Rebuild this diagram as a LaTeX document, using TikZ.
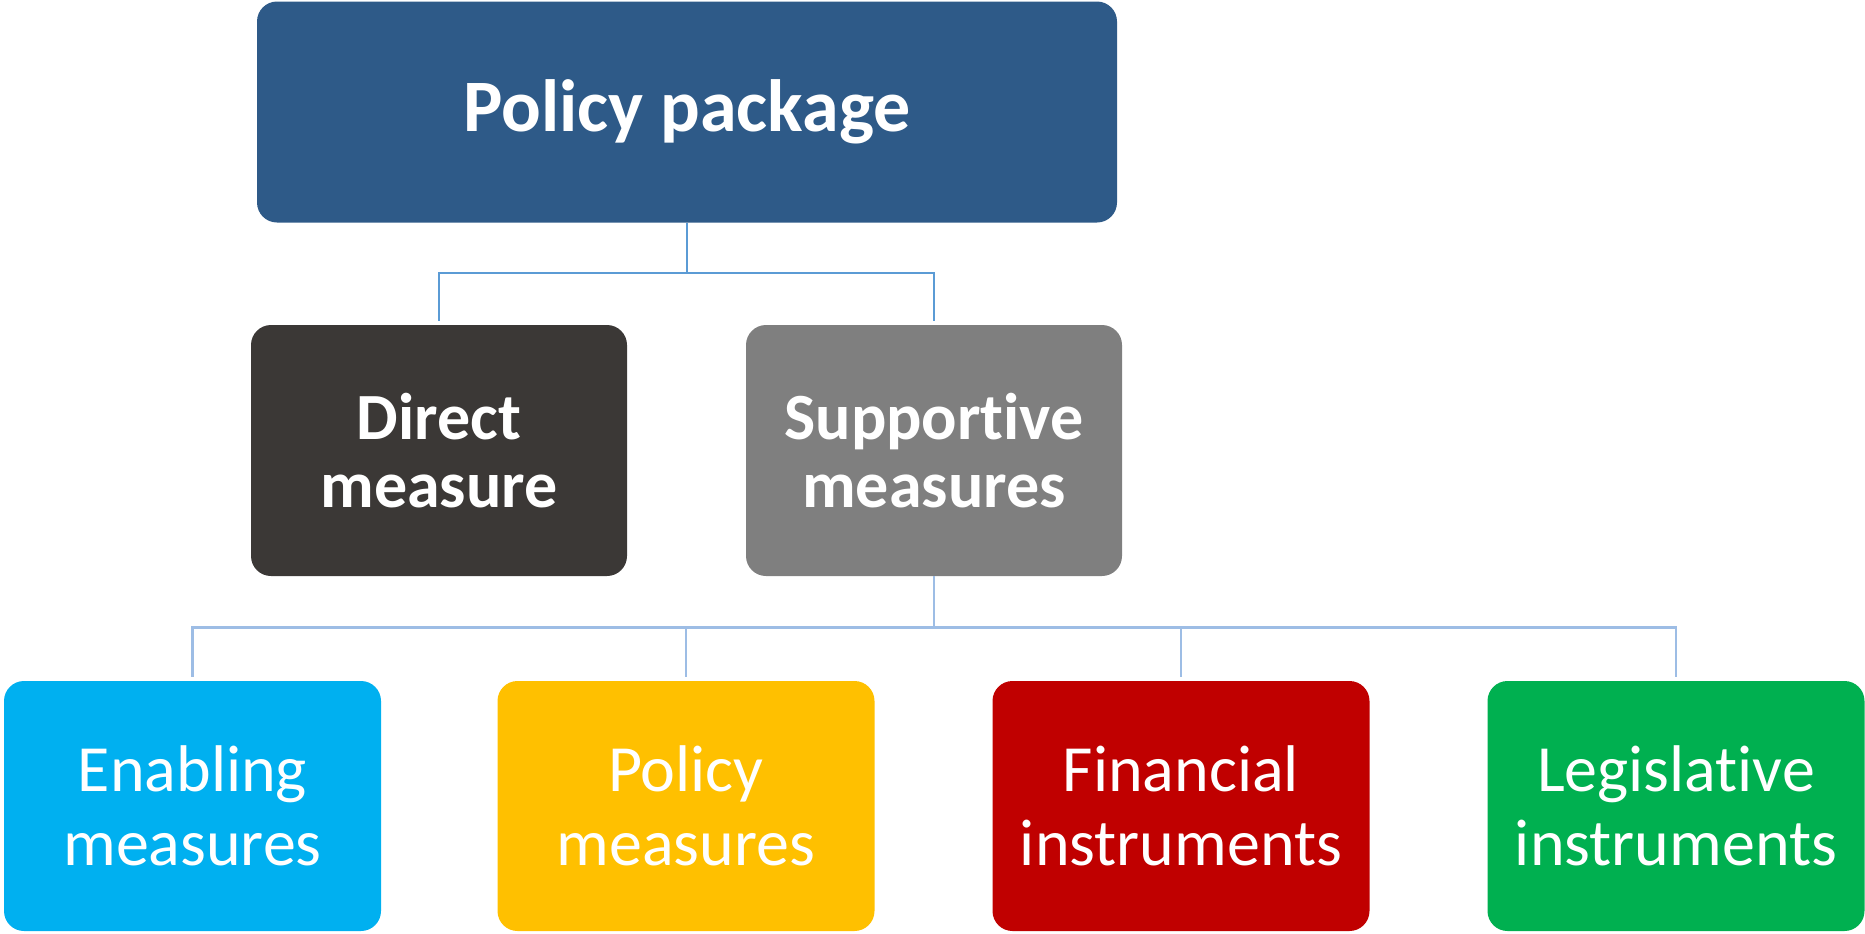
\documentclass[tikz,border=0pt]{standalone}
\usepackage{fontspec}
\setmainfont{Carlito}[Ligatures=NoCommon]
\definecolor{pkgblue}{HTML}{2E5A88}
\definecolor{directgray}{HTML}{3B3836}
\definecolor{supgray}{HTML}{7F7F7F}
\definecolor{enblue}{HTML}{00B0F0}
\definecolor{polyellow}{HTML}{FFC000}
\definecolor{finred}{HTML}{C00000}
\definecolor{leggreen}{HTML}{00B050}
\definecolor{lineA}{HTML}{5B9BD5}
\definecolor{lineB}{HTML}{9DBDE5}
\begin{document}
\begin{tikzpicture}[x=0.5pt,y=-0.5pt,
  box/.style={rounded corners=10pt, align=center, text=white, inner sep=0pt, draw=none},
  topbox/.style={box, minimum width=430pt, minimum height=110.5pt, font=\fontsize{37}{40}\selectfont\bfseries},
  midbox/.style={box, minimum width=188pt, minimum height=125.5pt, font=\fontsize{33}{34}\selectfont\bfseries},
  lowbox/.style={box, minimum width=188.5pt, minimum height=125pt, font=\fontsize{33}{37}\selectfont},
  conA/.style={draw=lineA, line width=1.4pt},
  conB/.style={draw=lineB, line width=1.1pt}]
\useasboundingbox (0,0) rectangle (1865,933);
\node[topbox, fill=pkgblue] (pkg) at (687,112) {Policy package};
\node[midbox, fill=directgray] (dir) at (439,450.5) {Direct\\measure};
\node[midbox, fill=supgray] (sup) at (934,450.5) {Supportive\\measures};
\node[lowbox, fill=enblue] (en) at (192.5,806) {Enabling\\measures};
\node[lowbox, fill=polyellow] (pol) at (686,806) {Policy\\measures};
\node[lowbox, fill=finred] (fin) at (1181,806) {Financial\\instruments};
\node[lowbox, fill=leggreen] (leg) at (1676,806) {Legislative\\instruments};
% top connectors
\draw[conA] (pkg.south) -- ++(0,50) coordinate (j1);
\draw[conA] (j1) -| ([yshift=2pt]dir.north);
\draw[conA] (j1) -| ([yshift=2pt]sup.north);
% bottom connectors
\draw[conB] (sup.south) -- ++(0,51) coordinate (j2);
\draw[conB] (j2) -| ([yshift=2pt]en.north);
\draw[conB] (j2) -| ([yshift=2pt]pol.north);
\draw[conB] (j2) -| ([yshift=2pt]fin.north);
\draw[conB] (j2) -| ([yshift=2pt]leg.north);
\end{tikzpicture}
\end{document}
